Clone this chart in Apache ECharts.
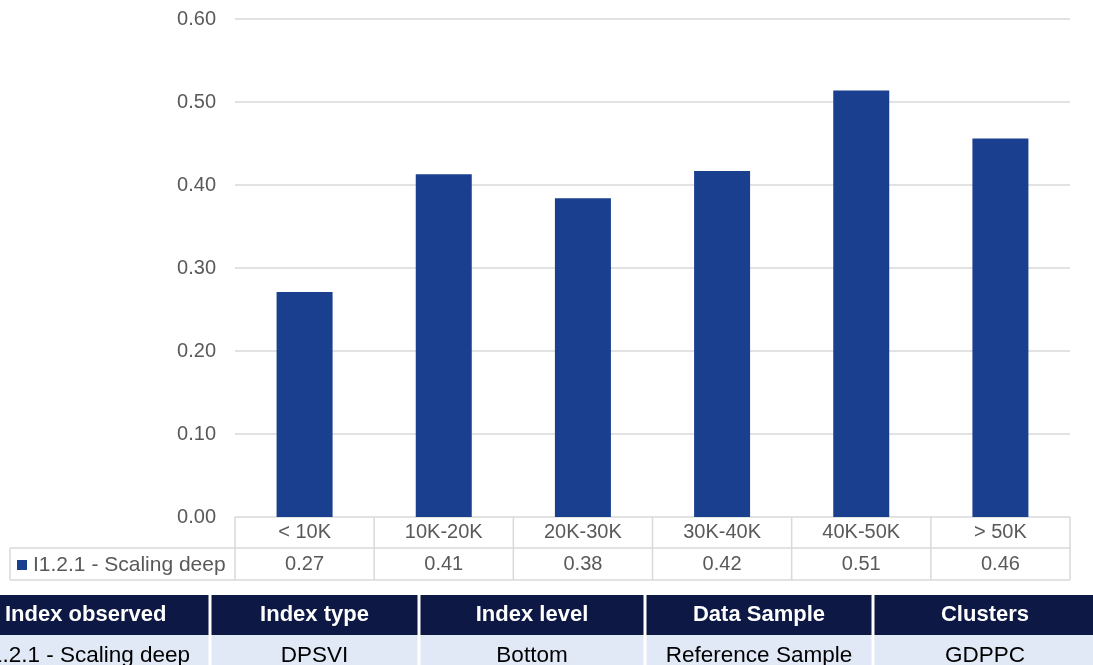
<!DOCTYPE html>
<html>
<head>
<meta charset="utf-8">
<script src="https://cdn.jsdelivr.net/npm/echarts@6/dist/echarts.min.js"></script>
<style>
  html, body { margin: 0; padding: 0; background: #fff; }
  #chart { width: 1093px; height: 665px; }
</style>
</head>
<body>
<div id="chart"></div>
<script>
// chart data
var categories = ["< 10K", "10K-20K", "20K-30K", "30K-40K", "40K-50K", "> 50K"];
var seriesName = "I1.2.1 - Scaling deep";
var values = [0.271, 0.413, 0.384, 0.417, 0.514, 0.456];
var yTicks = [0, 0.1, 0.2, 0.3, 0.4, 0.5, 0.6];

// info table under the chart
var infoHeaders = ["Index observed", "Index type", "Index level", "Data Sample", "Clusters"];
var infoRow = ["I1.2.1 - Scaling deep", "DPSVI", "Bottom", "Reference Sample", "GDPPC"];

var W = 1093, H = 665;
var gridLeft = 235, gridRight = 1070, gridTop = 19, gridBottom = 517;
var rowH1 = 548, rowH2 = 580;   // bottom of category row, bottom of value row
var lineCol = "#d9d9d9";
var txtCol = "#595959";
var font = "'Liberation Sans', Arial, sans-serif";

// data table lines (layout only)
var graphics = [];
function hline(x1, x2, y) {
    graphics.push({ type: 'line', silent: true, shape: { x1: x1, y1: y, x2: x2, y2: y },
        style: { stroke: lineCol, lineWidth: 1.5 } });
}
function vline(x, y1, y2) {
    graphics.push({ type: 'line', silent: true, shape: { x1: x, y1: y1, x2: x, y2: y2 },
        style: { stroke: lineCol, lineWidth: 1.5 } });
}
hline(10, gridRight, rowH1);
hline(10, gridRight, rowH2);
vline(10, rowH1, rowH2);
var cw = (gridRight - gridLeft) / categories.length;
for (var i = 0; i <= categories.length; i++) {
    vline(gridLeft + cw * i, gridBottom, rowH2);
}
// legend cell
graphics.push({ type: 'rect', silent: true, shape: { x: 17, y: 560, width: 10, height: 10 },
    style: { fill: '#1a3f8f' } });
graphics.push({ type: 'text', silent: true, x: 33, y: 565,
    style: { text: seriesName, fill: txtCol, font: '21px ' + font, verticalAlign: 'middle' } });

// info table
var colEdges = [-20, 210, 419, 645, 873, 1097];
graphics.push({ type: 'rect', silent: true, shape: { x: 0, y: 595, width: W, height: 40 },
    style: { fill: '#0d1944' } });
graphics.push({ type: 'rect', silent: true, shape: { x: 0, y: 635, width: W, height: 30 },
    style: { fill: '#e1e8f6' } });
for (var c = 1; c < colEdges.length - 1; c++) {
    graphics.push({ type: 'rect', silent: true, shape: { x: colEdges[c] - 1.5, y: 595, width: 3, height: 70 },
        style: { fill: '#ffffff' } });
}
for (var c = 0; c < infoHeaders.length; c++) {
    var mid = (colEdges[c] + colEdges[c + 1]) / 2;
    graphics.push({ type: 'text', silent: true,
        x: c === 0 ? 5 : mid, y: 615,
        style: { text: infoHeaders[c], fill: '#ffffff', font: 'bold 22px ' + font,
            align: c === 0 ? 'left' : 'center', verticalAlign: 'middle' } });
    graphics.push({ type: 'text', silent: true,
        x: c === 0 ? 190 : mid, y: 656,
        style: { text: infoRow[c], fill: '#000000', font: '22.5px ' + font,
            align: c === 0 ? 'right' : 'center', verticalAlign: 'middle' } });
}

var chart = echarts.init(document.getElementById('chart'), null, { renderer: 'canvas' });
chart.setOption({
    backgroundColor: '#ffffff',
    animation: false,
    textStyle: { fontFamily: font },
    grid: { left: gridLeft, right: W - gridRight, top: gridTop, bottom: H - gridBottom, containLabel: false },
    xAxis: [{
        type: 'category',
        data: categories,
        axisLine: { show: false },
        axisTick: { show: false },
        axisLabel: { color: txtCol, fontSize: 20, margin: 5, interval: 0 }
    }, {
        type: 'category',
        position: 'bottom',
        offset: 32,
        data: values.map(function (v) { return v.toFixed(2); }),
        axisLine: { show: false },
        axisTick: { show: false },
        axisLabel: { color: txtCol, fontSize: 20, margin: 5, interval: 0 }
    }],
    yAxis: {
        type: 'value',
        min: yTicks[0],
        max: yTicks[yTicks.length - 1],
        interval: 0.1,
        axisLine: { show: false },
        axisTick: { show: false },
        axisLabel: { color: txtCol, fontSize: 20, margin: 19,
            formatter: function (v) { return v.toFixed(2); } },
        splitLine: { lineStyle: { color: lineCol, width: 1.5 } }
    },
    series: [{
        name: seriesName,
        type: 'bar',
        data: values,
        barWidth: 56,
        itemStyle: { color: '#1a3f8f' }
    }],
    graphic: graphics
});
</script>
</body>
</html>
